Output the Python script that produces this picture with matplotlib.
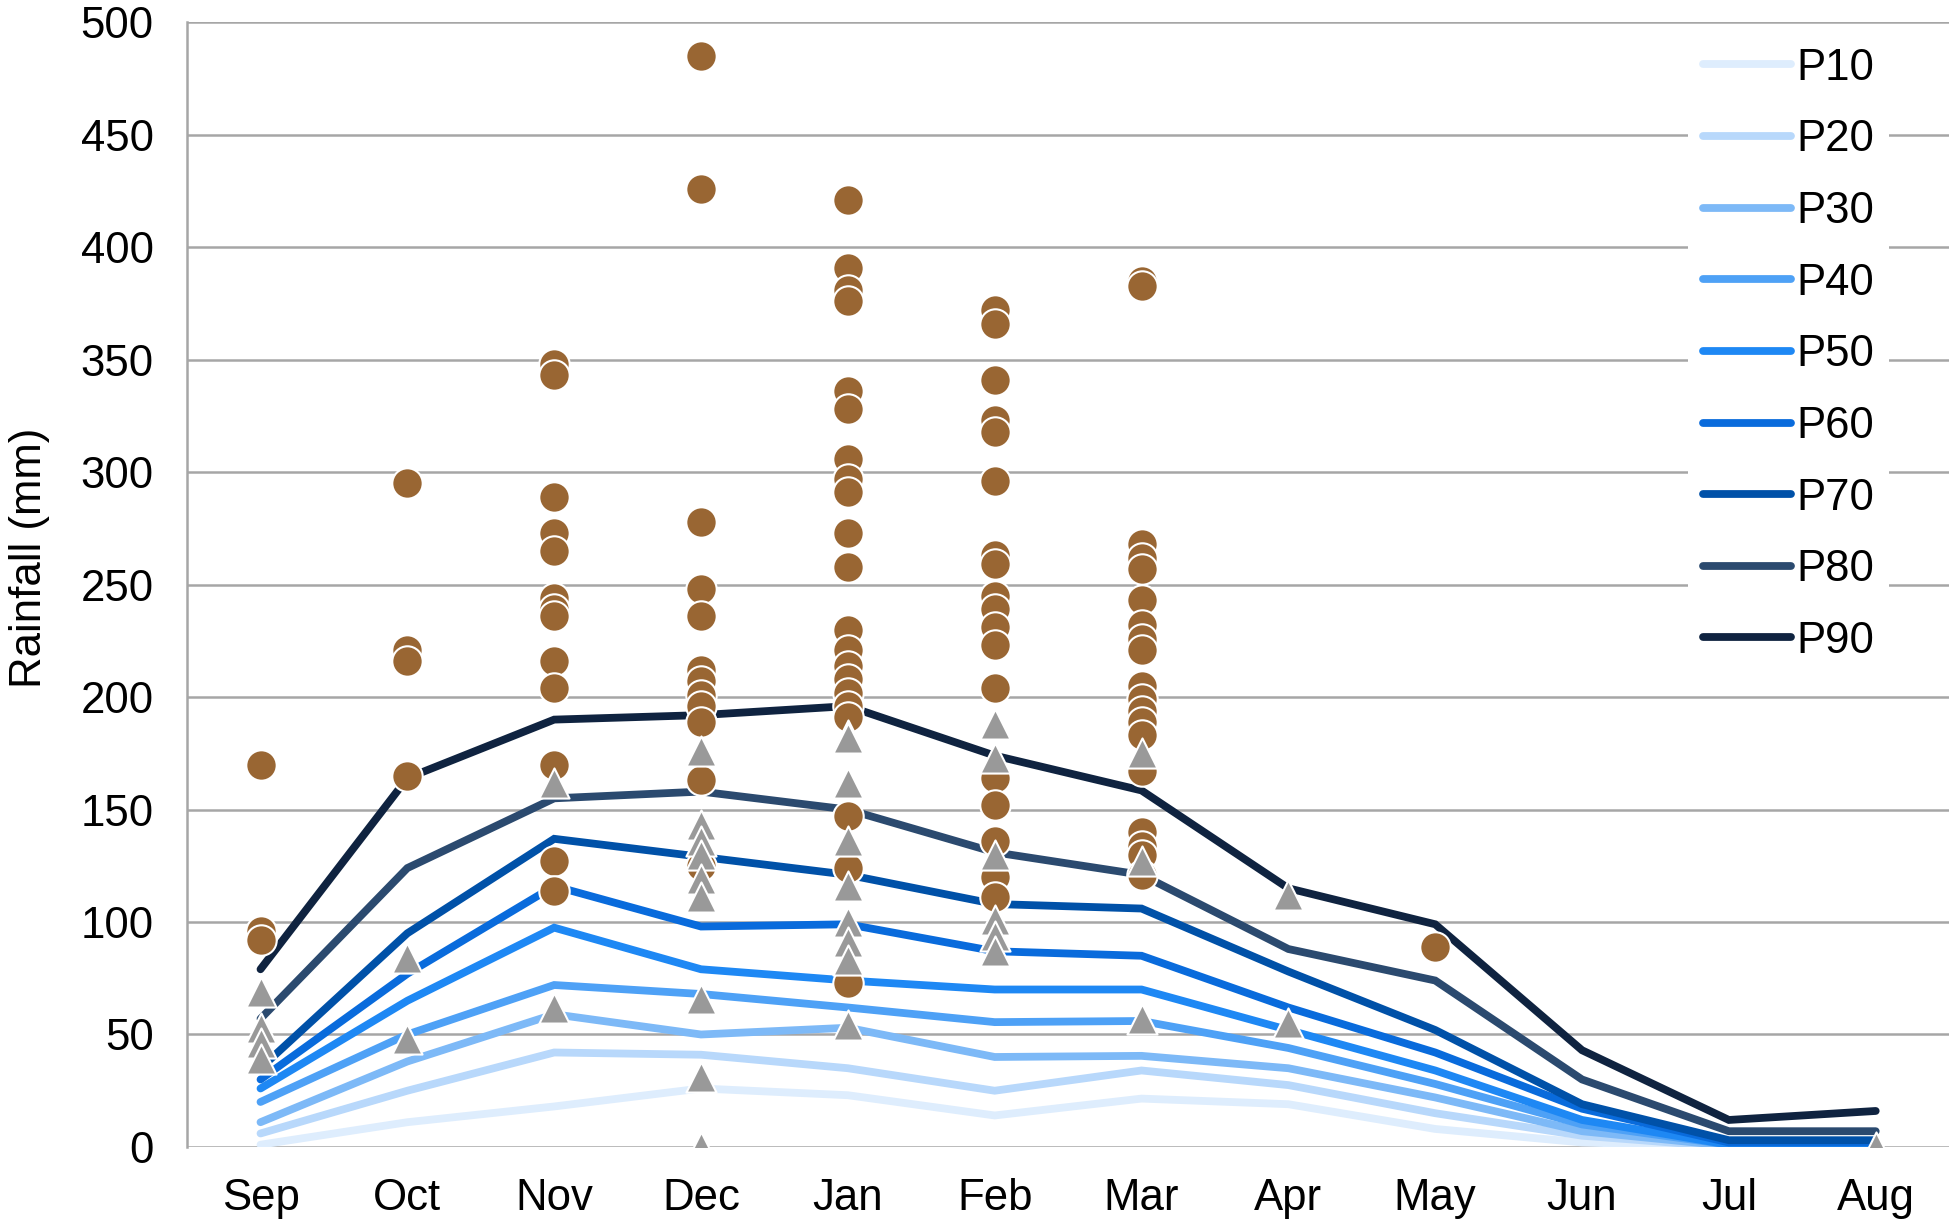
import matplotlib
matplotlib.use("Agg")
import matplotlib.pyplot as plt

plt.rcParams['font.family'] = ['Liberation Sans', 'DejaVu Sans']

months = ['Sep', 'Oct', 'Nov', 'Dec', 'Jan', 'Feb', 'Mar', 'Apr', 'May', 'Jun', 'Jul', 'Aug']

p10 = [1, 11, 18, 26, 23, 14, 21.5, 19, 8, 2, 0, 0]
p20 = [6, 25, 42, 41, 35, 25, 34, 27.5, 15, 5, 0, 0]
p30 = [11, 38, 59, 50, 53, 40, 40.5, 35, 22, 7, 0.5, 0.5]
p40 = [20, 50, 72, 68, 62, 55.5, 56, 44, 28, 10, 1, 1]
p50 = [26, 65, 97.5, 79, 74, 70, 70, 52, 34, 12, 1, 1]
p60 = [30, 77, 116, 98, 99, 87, 85, 62, 42, 17, 2, 2]
p70 = [35, 95, 137, 129, 121, 108, 106, 78, 52, 19, 3, 3]
p80 = [57, 124, 155, 158, 150, 131, 121, 88, 74, 30, 7, 7]
p90 = [79, 164, 190, 192, 196, 174, 158.5, 115, 99, 43, 12, 16]

percentiles = [p10, p20, p30, p40, p50, p60, p70, p80, p90]
labels = ['P10', 'P20', 'P30', 'P40', 'P50', 'P60', 'P70', 'P80', 'P90']
colors = ['#deedfd', '#b8d8fb', '#7db9f7', '#4ea1f6', '#1e88f4', '#096bdc',
          '#0051a8', '#2b4a6f', '#0f2340']

# observed years, one list per month (brown circles)
circles = [
    [170, 96, 92],
    [295, 221, 216, 165],
    [348, 343, 289, 273, 265, 244, 239, 236, 216, 204, 170, 127, 114],
    [485, 426, 278, 248, 236, 212, 207, 201, 196, 189, 163, 125],
    [421, 391, 381, 376, 336, 328, 306, 297, 291, 273, 258, 230, 221, 214,
     208, 202, 196, 191, 147, 124, 73],
    [372, 366, 341, 323, 318, 296, 263, 259, 245, 239, 231, 223, 204, 164,
     152, 136, 120, 111],
    [385, 383, 268, 262, 257, 243, 232, 226, 221, 205, 199, 194, 189, 183,
     167, 140, 134, 130, 121],
    [],
    [89],
    [],
    [],
    [],
]

# observed years, one list per month (grey triangles)
triangles = [
    [69, 53, 46, 39],
    [84, 48],
    [162, 62],
    [176, 143, 136, 130, 119, 111, 66, 31, 0],
    [183, 182, 162, 136, 116, 100, 91, 83, 54],
    [188, 173, 130, 101, 94, 87],
    [175, 127, 57],
    [112, 55],
    [],
    [],
    [],
    [0],
]

fig = plt.figure(figsize=(19.55, 12.28), dpi=100)
ax = fig.add_axes([0.0957, 0.066, 0.9013, 0.9158])

for vals, lab, col in zip(percentiles, labels, colors):
    ax.plot(months, vals, color=col, lw=5.6, label=lab,
            solid_capstyle='round', solid_joinstyle='miter', zorder=2)

for m, vals in zip(months, circles):
    if vals:
        ax.scatter([m] * len(vals), vals, s=480, marker='o', color='#996633',
                   edgecolors='white', linewidths=1.5, zorder=3)

for m, vals in zip(months, triangles):
    if vals:
        ax.scatter([m] * len(vals), vals, s=470, marker='^', color='#999999',
                   edgecolors='white', linewidths=1.5, zorder=4)

ax.set_xlim(-0.5, 11.5)
ax.set_ylim(0, 500)
ax.set_yticks(range(0, 501, 50))
ax.yaxis.grid(True, color='#a6a6a6', lw=1.8)
ax.set_axisbelow(True)

for side in ['top', 'right', 'bottom']:
    ax.spines[side].set_visible(False)
ax.spines['left'].set_color('#a6a6a6')
ax.spines['left'].set_linewidth(1.8)

ax.tick_params(axis='both', length=0, labelsize=31.5)
ax.tick_params(axis='y', pad=24)
ax.tick_params(axis='x', pad=22)

ax.set_ylabel('Rainfall (mm)', fontsize=31.5)
ax.yaxis.set_label_coords(-0.078, 0.524)

leg = ax.legend(loc='upper right', bbox_to_anchor=(0.966, 0.991), borderaxespad=0,
                fontsize=31.5, frameon=True, fancybox=False, edgecolor='none',
                facecolor='white', framealpha=1, handlelength=2.0,
                handletextpad=0.12, labelspacing=0.70, borderpad=0.35)
leg.set_zorder(5)

fig.savefig('out.png', dpi=100)
